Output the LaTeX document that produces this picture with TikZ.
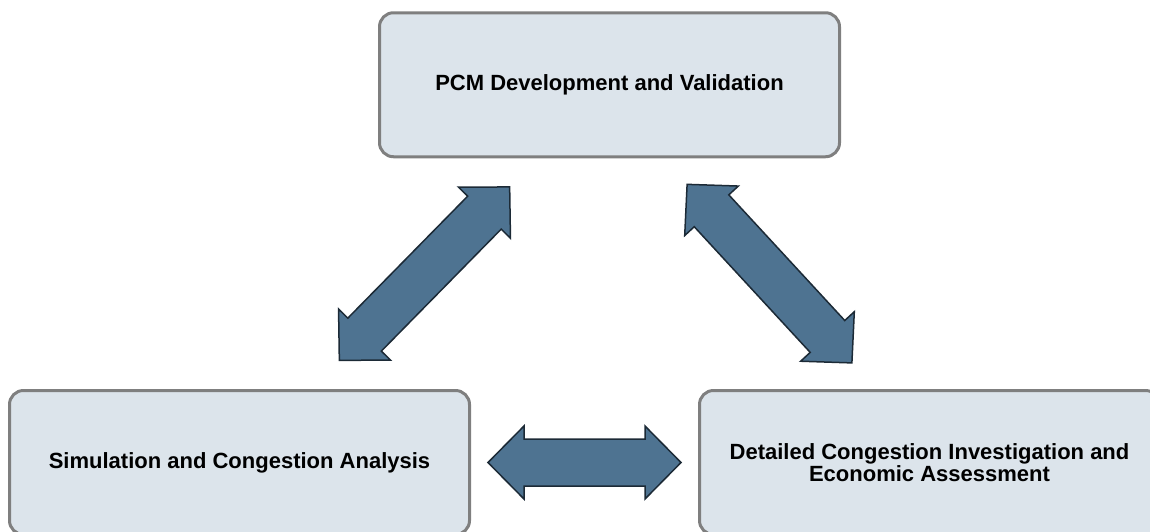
\documentclass[tikz,border=0pt]{standalone}
\usepackage{fontspec}
\setmainfont{Liberation Sans}
\usetikzlibrary{calc}

\definecolor{boxfill}{HTML}{DCE4EB}
\definecolor{boxline}{HTML}{7F7F7F}
\definecolor{arrowfill}{HTML}{4E7391}
\definecolor{arrowline}{HTML}{1C2A36}

\tikzset{
  stage/.style={draw=boxline, line width=3pt, fill=boxfill, rounded corners=14pt,
    minimum width=460pt, minimum height=144pt, align=center,
    font=\fontsize{22}{17.5}\selectfont\bfseries},
  pics/dblarrow/.style={code={
    \filldraw[fill=arrowfill, draw=arrowline, line width=1.5pt]
      (-#1,0) -- (-#1+36,36.5) -- (-#1+36,23.5) -- (#1-36,23.5) -- (#1-36,36.5)
      -- (#1,0) -- (#1-36,-36.5) -- (#1-36,-23.5) -- (-#1+36,-23.5) -- (-#1+36,-36.5) -- cycle;
  }}
}

\begin{document}
\begin{tikzpicture}[x=1pt, y=-1pt]
            \useasboundingbox (0,0) rectangle (1150,531);
            \clip (0,0) rectangle (1150,531);

            \node [stage] (pcm) at (609.5,84.75) {PCM Development and Validation};
            \node [stage] (sim) at (239.5,462.5) {Simulation and Congestion Analysis};
            \node [stage] (det) at (929.5,462.5) {Detailed Congestion Investigation and\\Economic Assessment};

            \pic [rotate=45.5] at ($(pcm)!0.5!(sim)$) {dblarrow=121.5};
            \pic [rotate=-47.3] at ($(pcm)!0.5!(det)$) {dblarrow=121.5};
            \pic at ($(sim)!0.5!(det)$) {dblarrow=96.5};
        \end{tikzpicture}
\end{document}
